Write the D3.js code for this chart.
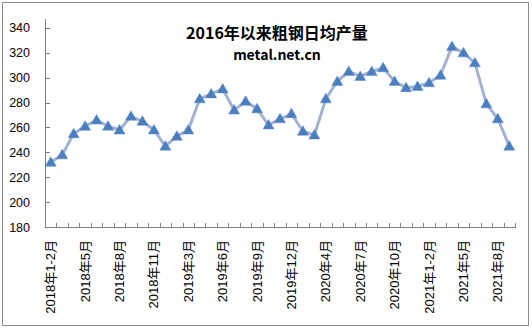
<!DOCTYPE html>
<meta charset="utf-8">
<style>
body {
  margin: 0;
  background: #fff;
  font-family: "Liberation Sans", "Noto Sans CJK SC", sans-serif;
}
.axis path, .axis line {
  stroke: #808080;
  shape-rendering: crispEdges;
}
.axis text {
  font-size: 12px;
  fill: #000;
}
.line {
  fill: none;
  stroke: #a3b2d2;
  stroke-width: 3px;
  stroke-linejoin: round;
}
</style>
<body>
<svg width="532" height="329"></svg>
<script src="https://d3js.org/d3.v7.min.js"></script>
<script>
// daily crude steel output (10k t), Jan-Feb 2018 .. Sep 2021
var months = [
  "2018年1-2月","2018年3月","2018年4月","2018年5月","2018年6月","2018年7月","2018年8月","2018年9月","2018年10月","2018年11月","2018年12月",
  "2019年1-2月","2019年3月","2019年4月","2019年5月","2019年6月","2019年7月","2019年8月","2019年9月","2019年10月","2019年11月","2019年12月",
  "2020年1-2月","2020年3月","2020年4月","2020年5月","2020年6月","2020年7月","2020年8月","2020年9月","2020年10月","2020年11月","2020年12月",
  "2021年1-2月","2021年3月","2021年4月","2021年5月","2021年6月","2021年7月","2021年8月","2021年9月"
];
var output = [
  232, 238, 255, 261, 266, 261, 258, 269, 265, 258, 245,
  253, 258, 283, 287, 291, 274, 281, 275, 262, 267, 271,
  257, 254, 283, 297, 305, 301, 305, 308, 297, 292, 293,
  296, 302, 325, 320, 312, 279, 267, 245
];
var yTicks = [180, 200, 220, 240, 260, 280, 300, 320, 340];

var svg = d3.select("svg");

// outer frame
svg.append("rect")
    .attr("x", 2.5).attr("y", 2.5)
    .attr("width", 526).attr("height", 323)
    .attr("fill", "#fff")
    .attr("stroke", "#8c8c8c");

var x = d3.scaleBand().domain(months).range([45, 515]),
    xb = d3.scaleLinear().domain([0, months.length]).range([45, 515]),
    y = d3.scaleLinear().domain([180, 348]).range([227, 18]);

// y axis, ticks pointing inward
svg.append("g")
    .attr("class", "axis")
    .attr("transform", "translate(45,0)")
    .call(d3.axisLeft(y).tickValues(yTicks).tickSizeInner(-5).tickSizeOuter(0).tickPadding(15))
    .call(function(g) { g.selectAll("text").style("font-size", "12.5px"); });

// x axis line + boundary ticks
svg.append("g")
    .attr("class", "axis")
    .attr("transform", "translate(0,227)")
    .call(d3.axisBottom(xb).ticks(months.length).tickSizeInner(-4).tickSizeOuter(0).tickFormat(""));

// every third category label, rotated
svg.append("g")
    .attr("class", "axis")
    .selectAll("text")
    .data(months.filter(function(d, i) { return i % 3 === 0; }))
    .enter().append("text")
      .attr("transform", function(d) { return "translate(" + (x(d) + x.bandwidth() / 2) + ",240) rotate(-90)"; })
      .attr("text-anchor", "end")
      .attr("dy", "0.35em")
      .style("font-size", "13px")
      .text(function(d) { return d; });

var line = d3.line()
    .x(function(d, i) { return x(months[i]) + x.bandwidth() / 2; })
    .y(function(d) { return y(d); });

svg.append("path")
    .datum(output)
    .attr("class", "line")
    .attr("d", line);

svg.selectAll(".pt")
    .data(output)
    .enter().append("path")
      .attr("class", "pt")
      .attr("transform", function(d, i) { return "translate(" + (x(months[i]) + x.bandwidth() / 2) + "," + y(d) + ")"; })
      .attr("d", "M0,-5.5L5.5,4L-5.5,4Z")
      .attr("fill", "#4a7ebf")
      .attr("stroke", "#5b8bc9")
      .attr("stroke-width", 0.5);

svg.append("text")
    .attr("x", 277)
    .attr("y", 39)
    .attr("text-anchor", "middle")
    .style("font", "bold 16px 'Noto Sans CJK SC', sans-serif")
    .text("2016年以来粗钢日均产量");

svg.append("text")
    .attr("x", 277)
    .attr("y", 60)
    .attr("text-anchor", "middle")
    .style("font", "bold 14px 'Noto Sans CJK SC', sans-serif")
    .text("metal.net.cn");
</script>
</body>
